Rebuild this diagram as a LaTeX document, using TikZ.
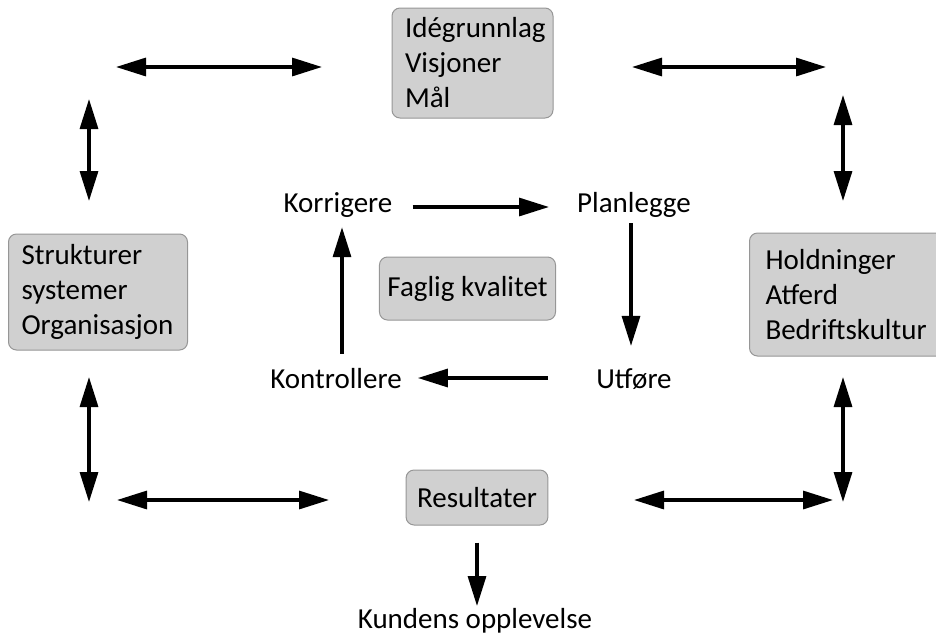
\documentclass[tikz,border=0pt]{standalone}
\usepackage{fontspec}
\setmainfont{Carlito}
\usetikzlibrary{arrows.meta}

\definecolor{boxfill}{RGB}{208,208,208}
\definecolor{boxline}{RGB}{150,150,150}

\tikzset{
    greybox/.style={draw=boxline, fill=boxfill, rounded corners=8pt, line width=1pt,
        align=left, inner ysep=0pt},
    word/.style={inner sep=2pt, anchor=base},
    bigarrow/.style={line width=3.2pt, -{Triangle[length=30pt,width=18pt]}},
    twoway/.style={line width=3.2pt, {Triangle[length=30pt,width=18pt]}-{Triangle[length=30pt,width=18pt]}}
}

\begin{document}
\begin{tikzpicture}[x=1pt,y=-1pt,font=\fontsize{29}{35}\selectfont]
        \useasboundingbox (0,0) rectangle (936,638);

        % the four corners
        \node[greybox, text width=135pt, inner xsep=13pt, minimum height=110pt] (ide) at (472.5,63) {Idégrunnlag\\Visjoner\\Mål};
        \node[greybox, text width=153pt, inner xsep=13pt, minimum height=116pt] (struk) at (98,292) {Strukturer\\systemer\\Organisasjon};
        \node[greybox, text width=163pt, inner xsep=16pt, minimum height=123pt] (hold) at (847,294.5) {Holdninger\\Atferd\\Bedriftskultur};
        \node[greybox, inner xsep=8pt, minimum height=63pt] (fag) at (467.5,288.5) {Faglig kvalitet};
        \node[greybox, inner xsep=11pt, minimum height=55pt] (res) at (477,497.5) {Resultater};

        % the cycle
        \node[word] (korr) at (338,212) {Korrigere};
        \node[word] (plan) at (634,212) {Planlegge};
        \node[word] (utf) at (634,388) {Utføre};
        \node[word] (kontr) at (336,388) {Kontrollere};
        \node[word] (kunde) at (475,628) {Kundens opplevelse};

        \draw[bigarrow, shorten <=18pt, shorten >=26pt] (korr.east |- 0,207) -- (plan.west |- 0,207);
        \draw[bigarrow, shorten <=4pt, shorten >=20pt] ([xshift=-3pt]plan.south) -- ([xshift=-3pt]plan.south |- utf.north);
        \draw[bigarrow, shorten <=46pt, shorten >=14pt] (utf.west |- 0,378) -- (kontr.east |- 0,378);
        \draw[bigarrow, shorten <=12pt, shorten >=8pt] ([xshift=6pt]kontr.north) -- ([xshift=6pt]kontr.north |- korr.south);
        \draw[bigarrow, shorten <=17pt, shorten >=0pt] (477,0 |- res.south) -- (477,606);

        % links round the outside
        \coordinate (tl) at (116,67);  \coordinate (tm) at (322,67);
        \coordinate (tn) at (632,67);  \coordinate (tr) at (826,67);
        \coordinate (lu) at (89,99);   \coordinate (ld) at (89,201);
        \coordinate (ru) at (843,95);  \coordinate (rd) at (843,201);
        \coordinate (lu2) at (89,377); \coordinate (ld2) at (89,502);
        \coordinate (ru2) at (843,377); \coordinate (rd2) at (843,502);
        \coordinate (bl) at (117,500); \coordinate (bm) at (329,500);
        \coordinate (bn) at (634,500); \coordinate (br) at (833,500);

        \draw[twoway] (tl) -- (tm);
        \draw[twoway] (tn) -- (tr);
        \draw[twoway] (lu) -- (ld);
        \draw[twoway] (ru) -- (rd);
        \draw[twoway] (lu2) -- (ld2);
        \draw[twoway] (ru2) -- (rd2);
        \draw[twoway] (bl) -- (bm);
        \draw[twoway] (bn) -- (br);
\end{tikzpicture}
\end{document}
